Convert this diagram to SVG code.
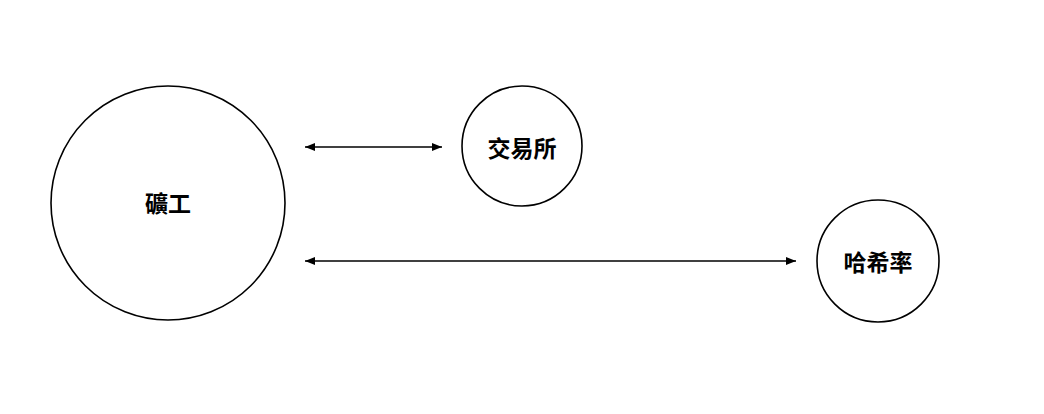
<svg xmlns="http://www.w3.org/2000/svg" width="1044" height="414" viewBox="0 0 1044 414">
<style>
.node circle{fill:#fff;stroke:#000;stroke-width:1.6}
.node text{font-family:"Noto Sans CJK TC","Noto Sans CJK SC",sans-serif;font-weight:bold;font-size:23px;fill:#000;text-anchor:middle;dominant-baseline:central}
.conn line{stroke:#000;stroke-width:1.5;marker-start:url(#a);marker-end:url(#a)}
</style>
<defs>
<marker id="a" viewBox="0 0 10 8" refX="10" refY="4" markerWidth="10" markerHeight="8" markerUnits="userSpaceOnUse" orient="auto-start-reverse">
<path d="M0,0 L10,4 L0,8 Z" fill="#000"/>
</marker>
</defs>
<rect width="1044" height="414" fill="#fff"/>
<g class="conn">
<line x1="305" y1="147" x2="442" y2="147"/>
<line x1="305" y1="261" x2="796" y2="261"/>
</g>
<g id="miner" class="node"><circle cx="168" cy="203" r="117"/><text x="168" y="202">礦工</text></g>
<g id="exchange" class="node"><circle cx="522" cy="146" r="60"/><text x="522" y="147">交易所</text></g>
<g id="hashrate" class="node"><circle cx="878" cy="261" r="61"/><text x="878" y="261">哈希率</text></g>
</svg>
